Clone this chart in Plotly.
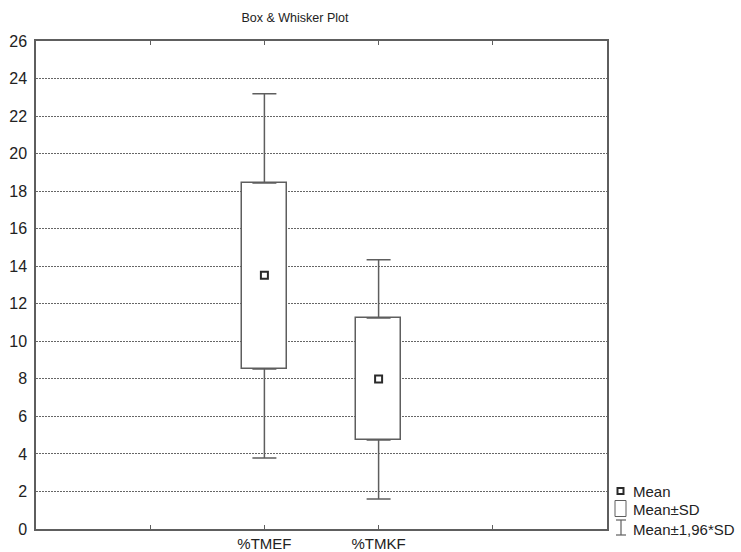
import plotly.graph_objects as go

# ---- data ----
categories = ["%TMEF", "%TMKF"]
means = [13.52, 7.99]
sd_low = [8.52, 4.74]
sd_high = [18.44, 11.24]
ci_low = [3.78, 1.60]
ci_high = [23.19, 14.35]
y_ticks = list(range(0, 27, 2))
legend_labels = ["Mean", "Mean±SD", "Mean±1,96*SD"]

W, H = 741, 552
L, R, T, B = 36, 134, 41, 23
PW, PH = W - L - R, H - T - B

FONT = "Liberation Sans, Arial, sans-serif"
LINE = "#5e5e5e"

positions = [i + 2 for i in range(len(categories))]

fig = go.Figure()

# Mean ± SD boxes
fig.add_trace(go.Bar(
    x=positions,
    y=[h - l for h, l in zip(sd_high, sd_low)],
    base=sd_low,
    width=0.4,
    marker=dict(color="white", line=dict(color=LINE, width=1.5)),
    showlegend=False, hoverinfo="skip",
))

# upper whiskers
fig.add_trace(go.Scatter(
    x=positions, y=sd_high, mode="markers",
    marker=dict(size=1, opacity=0),
    error_y=dict(type="data", symmetric=False,
                 array=[c - h for c, h in zip(ci_high, sd_high)],
                 arrayminus=[0] * len(categories),
                 width=12, thickness=1.5, color=LINE),
    showlegend=False, hoverinfo="skip",
))
# lower whiskers
fig.add_trace(go.Scatter(
    x=positions, y=sd_low, mode="markers",
    marker=dict(size=1, opacity=0),
    error_y=dict(type="data", symmetric=False,
                 array=[0] * len(categories),
                 arrayminus=[l - c for l, c in zip(sd_low, ci_low)],
                 width=12, thickness=1.5, color=LINE),
    showlegend=False, hoverinfo="skip",
))
# means
fig.add_trace(go.Scatter(
    x=positions, y=means, mode="markers",
    marker=dict(symbol="square-open", size=7, color="#2a2a2a",
                line=dict(width=2, color="#2a2a2a")),
    showlegend=False,
))

# ---- manual legend (pixel helpers -> paper coords) ----
def px(x):
    return (x - L) / PW

def py(y):
    return (H - B - y) / PH

shapes = []
# Mean icon
shapes.append(dict(type="rect", xref="paper", yref="paper",
                   x0=px(617.5), x1=px(623.5), y0=py(494), y1=py(488),
                   line=dict(color="#2a2a2a", width=2), fillcolor="white"))
# Mean±SD icon
shapes.append(dict(type="rect", xref="paper", yref="paper",
                   x0=px(615), x1=px(626), y0=py(516.5), y1=py(500.5),
                   line=dict(color=LINE, width=1), fillcolor="white"))
# Mean±1,96*SD icon
shapes.append(dict(type="line", xref="paper", yref="paper",
                   x0=px(621), x1=px(621), y0=py(535), y1=py(520),
                   line=dict(color=LINE, width=1.2)))
shapes.append(dict(type="line", xref="paper", yref="paper",
                   x0=px(616), x1=px(626), y0=py(520), y1=py(520),
                   line=dict(color=LINE, width=1.2)))
shapes.append(dict(type="line", xref="paper", yref="paper",
                   x0=px(616), x1=px(626), y0=py(535), y1=py(535),
                   line=dict(color=LINE, width=1.2)))

annotations = []
for lab, yc in zip(legend_labels, [491, 509.5, 529]):
    annotations.append(dict(text=lab, xref="paper", yref="paper",
                            x=px(631), y=py(yc), xanchor="left", yanchor="middle",
                            showarrow=False,
                            font=dict(family=FONT, size=15, color="#222")))

fig.update_layout(
    width=W, height=H,
    margin=dict(l=L, r=R, t=T, b=B, pad=0, autoexpand=False),
    paper_bgcolor="white", plot_bgcolor="white",
    font=dict(family=FONT, size=15, color="#222"),
    title=dict(text="Box & Whisker Plot", x=px(295), xref="paper",
               xanchor="center", y=1 - 18 / H, yanchor="middle",
               font=dict(family=FONT, size=12.5, color="#222")),
    showlegend=False,
    shapes=shapes,
    annotations=annotations,
    bargap=0,
)

fig.update_xaxes(
    range=[0, 5], tickvals=[1, 2, 3, 4],
    ticktext=[""] + categories + [""],
    ticks="inside", ticklen=4, tickwidth=1, tickcolor=LINE,
    showline=True, linecolor=LINE, linewidth=1.5, mirror="ticks",
    showgrid=False, zeroline=False, automargin=False,
    tickfont=dict(family=FONT, size=15, color="#222"),
)
fig.update_yaxes(
    range=[0, 26], tickvals=y_ticks,
    ticks="outside", ticklen=4, tickcolor="rgba(0,0,0,0)",
    showline=True, linecolor=LINE, linewidth=1.5, mirror=True,
    showgrid=True, gridcolor="#666", gridwidth=1, griddash="2px,1px",
    zeroline=False, automargin=False,
    tickfont=dict(family=FONT, size=16, color="#222"),
)

fig.write_html("out.html",
               config={"displayModeBar": False},
               post_script="document.body.style.margin='0';document.body.style.padding='0';")
